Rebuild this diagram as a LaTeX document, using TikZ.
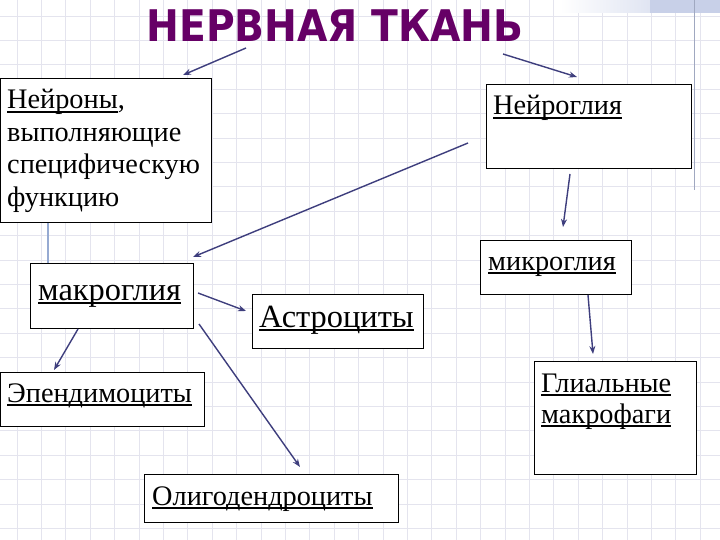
\documentclass[tikz,border=0pt]{standalone}
\usepackage{fontspec}
\setmainfont{Liberation Serif}
\newfontfamily\titlefont{DejaVu Sans Condensed}
\usetikzlibrary{arrows.meta}
\definecolor{arrcol}{RGB}{62,62,125}
\definecolor{titlecol}{RGB}{102,0,102}
\definecolor{gridcol}{RGB}{228,228,238}
\definecolor{bandcol}{RGB}{200,208,232}
\definecolor{linkcol}{RGB}{150,170,210}
\definecolor{edgecol}{RGB}{160,168,192}
\newcommand\ulw[1]{\setbox0\hbox{#1}\rlap{\rule[-4.2pt]{\wd0}{2.6pt}}\box0}
\begin{document}
\begin{tikzpicture}[x=1pt,y=-1pt,
  boxnode/.style={draw=black,line width=1.3pt,fill=white,inner sep=0pt,anchor=north west},
  lbl/.style={anchor=base west,inner sep=0pt,font=\fontsize{28.3}{32}\selectfont},
  biglbl/.style={lbl,font=\fontsize{32.4}{36}\selectfont},
  arr/.style={draw=arrcol,line width=1.4pt,-{Stealth[length=8pt,width=6pt]}},
  gridline/.style={draw=gridcol,line width=0.8pt}]
\useasboundingbox (0,0) rectangle (720,540);
\fill[white] (0,0) rectangle (720,540);
% grid
\foreach \i in {0,...,29} \draw[gridline] ({17+24.4*\i},0) -- ++(0,540);
\foreach \j in {0,...,22} \draw[gridline] (0,{16+24.4*\j}) -- ++(720,0);
% top right band
\shade[left color=white,right color=bandcol] (560,0) rectangle (720,13);
\fill[bandcol] (650,0) rectangle (720,13);
% right vertical line
\coordinate (ve1) at (694,0);
\coordinate (ve2) at (694,190);
\draw[edgecol,line width=1pt] (ve1) -- (ve2);
% title
\node[font=\titlefont\bfseries\fontsize{43.6}{44}\selectfont,text=titlecol,anchor=base,inner sep=0pt] (title) at (335,42) {НЕРВНАЯ ТКАНЬ};
% link line
\coordinate (lk1) at (48,222);
\coordinate (lk2) at (48,263);
\draw[linkcol,line width=1.2pt] (lk1) -- (lk2);
% boxes
\node[boxnode,minimum width=211pt,minimum height=144pt] (neur) at (0,78) {};
\node[boxnode,minimum width=205pt,minimum height=84pt] (glia) at (486,84) {};
\node[boxnode,minimum width=151pt,minimum height=54pt] (micro) at (480,240) {};
\node[boxnode,minimum width=163pt,minimum height=65pt] (macro) at (30,263) {};
\node[boxnode,minimum width=171pt,minimum height=54pt] (astro) at (252,294) {};
\node[boxnode,minimum width=204pt,minimum height=54pt] (epend) at (0,372) {};
\node[boxnode,minimum width=162pt,minimum height=113pt] (macroph) at (534,361) {};
\node[boxnode,minimum width=254pt,minimum height=48pt] (oligo) at (144,474) {};
% labels
\node[lbl] (t1) at (7,109) {\ulw{Нейроны},};
\node[lbl] (t2) at (7,141.5) {выполняющие};
\node[lbl] (t3) at (7,174) {специфическую};
\node[lbl] (t4) at (7,206.5) {функцию};
\node[lbl] (tg) at (493,115) {\ulw{Нейроглия}};
\node[lbl] (tmi) at (488,270) {\ulw{микроглия}};
\node[biglbl] (tma) at (38,300) {\ulw{макроглия}};
\node[biglbl] (tas) at (259,327) {\ulw{Астроциты}};
\node[lbl] (tep) at (7,402) {\ulw{Эпендимоциты}};
\node[lbl] (tgm1) at (541,392) {\ulw{Глиальные}};
\node[lbl] (tgm2) at (541,423) {\ulw{макрофаги}};
\node[lbl] (tol) at (152,505) {\ulw{Олигодендроциты}};
% arrow end points
\coordinate (a1s) at (246,48); \coordinate (a1e) at (183,75);
\coordinate (a2s) at (503,54); \coordinate (a2e) at (577,77);
\coordinate (a3s) at (468,143); \coordinate (a3e) at (193,257);
\coordinate (a4s) at (570,174); \coordinate (a4e) at (563,227);
\coordinate (a5s) at (588,295); \coordinate (a5e) at (593,354);
\coordinate (a6s) at (198,293); \coordinate (a6e) at (246,311);
\coordinate (a7s) at (78,329); \coordinate (a7e) at (54,370);
\coordinate (a8s) at (199,324); \coordinate (a8e) at (300,467);
\foreach \k in {1,...,8} \draw[arr] (a\k s) -- (a\k e);
\end{tikzpicture}
\end{document}
